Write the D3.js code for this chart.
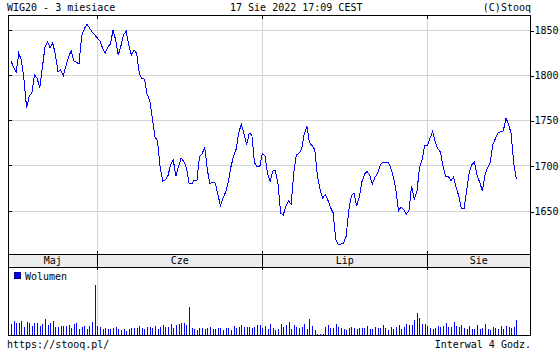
<!DOCTYPE html>
<html>
<head>
<meta charset="utf-8">
<script src="https://cdn.jsdelivr.net/npm/d3@7"></script>
<style>
  body { margin: 0; background: #fff; }
  svg { display: block; }
  text { font-family: 'DejaVu Sans Mono', monospace; font-size: 10px; fill: #000; }
</style>
</head>
<body>
<div id="chart"></div>
<script>
// WIG20, 4h bars, 17 May - 17 Aug 2022
const prices = [
  1815.6, 1809.0, 1803.5, 1824.2, 1816.8, 1794.6, 1763.6, 1776.9, 1780.2, 1800.1,
  1796.8, 1785.7, 1807.9, 1831.2, 1836.7, 1830.1, 1835.6, 1822.3, 1803.5, 1805.7,
  1799.0, 1810.1, 1820.1, 1826.7, 1815.6, 1814.5, 1812.3, 1843.3, 1851.1, 1856.6,
  1852.2, 1847.8, 1844.5, 1841.1, 1837.8, 1830.1, 1824.5, 1831.2, 1834.5, 1850.0,
  1838.9, 1822.3, 1832.3, 1844.5, 1848.9, 1833.4, 1822.3, 1827.8, 1824.5, 1802.4,
  1796.0, 1795.7, 1779.1, 1771.9, 1752.5, 1731.4, 1727.0, 1697.1, 1682.7, 1683.8,
  1688.8, 1701.0, 1706.0, 1688.2, 1698.8, 1708.2, 1704.3, 1697.6, 1680.5, 1679.4,
  1683.8, 1682.7, 1709.8, 1712.6, 1720.4, 1694.9, 1679.9, 1681.2, 1680.5, 1668.3,
  1655.0, 1663.9, 1670.5, 1681.9, 1698.2, 1710.1, 1718.1, 1736.4, 1745.5, 1735.1,
  1722.6, 1735.9, 1733.7, 1702.9, 1698.2, 1698.2, 1713.4, 1710.6, 1690.7, 1682.7,
  1693.8, 1694.2, 1678.8, 1647.2, 1645.0, 1655.0, 1660.5, 1657.2, 1691.6, 1711.8,
  1713.4, 1718.1, 1734.8, 1743.6, 1725.3, 1721.7, 1717.6, 1689.3, 1673.8, 1663.9,
  1667.6, 1661.6, 1653.5, 1647.6, 1618.4, 1611.8, 1612.9, 1614.0, 1621.7, 1650.6,
  1666.4, 1669.6, 1655.0, 1665.0, 1681.6, 1690.1, 1693.5, 1688.8, 1679.4, 1686.8,
  1691.0, 1700.1, 1703.7, 1703.7, 1703.5, 1697.6, 1687.5, 1672.7, 1649.7, 1653.9,
  1650.6, 1645.7, 1650.6, 1677.5, 1662.7, 1670.5, 1697.1, 1706.0, 1722.2, 1722.0,
  1729.7, 1737.5, 1725.9, 1718.4, 1714.8, 1698.9, 1688.2, 1687.9, 1682.9, 1686.8,
  1675.5, 1666.1, 1652.3, 1651.7, 1672.0, 1692.1, 1700.7, 1703.7, 1688.7, 1681.1,
  1671.9, 1689.3, 1697.6, 1702.9, 1723.3, 1729.6, 1736.4, 1737.3, 1738.1, 1752.2,
  1746.1, 1734.8, 1702.1, 1684.9
]
const volumes = [
  30, 39, 32, 34, 40, 21, 36, 34, 24, 34, 34, 24, 31, 45, 28, 34, 40, 21, 21, 24,
  23, 25, 28, 19, 29, 34, 15, 22, 25, 15, 24, 37, 148, 24, 22, 16, 18, 15, 15, 19,
  22, 16, 12, 15, 10, 16, 18, 18, 18, 24, 18, 15, 22, 22, 19, 24, 16, 22, 28, 20,
  20, 31, 19, 26, 30, 34, 33, 27, 82, 17, 15, 12, 18, 18, 16, 19, 21, 15, 15, 18,
  18, 12, 18, 18, 12, 24, 18, 22, 28, 21, 21, 21, 18, 21, 27, 27, 18, 24, 15, 30,
  18, 12, 15, 30, 22, 27, 36, 15, 27, 22, 19, 21, 30, 16, 45, 24, 12, 0, 0, 0,
  21, 27, 18, 18, 30, 21, 18, 15, 12, 18, 22, 18, 15, 18, 18, 18, 24, 15, 15, 21,
  19, 18, 27, 18, 12, 21, 15, 21, 27, 15, 21, 30, 27, 27, 42, 63, 48, 30, 30, 24,
  18, 15, 18, 24, 21, 24, 33, 21, 21, 36, 24, 21, 27, 18, 15, 24, 15, 15, 27, 15,
  18, 30, 15, 12, 21, 18, 15, 24, 15, 24, 21, 18, 21, 42
]
const months = ['Maj', 'Cze', 'Lip', 'Sie']
const monthStarts = [0, 33, 96, 159]
const priceTicks = [1650, 1700, 1750, 1800, 1850]

const plotLeft = 8, plotRight = 530, plotTop = 15
const bandTop = 254, bandBottom = 267, plotBottom = 335
const gridColor = '#d4d4d4'
const blue = '#0000ff'

const svg = d3.select('#chart').append('svg')
    .attr('width', 560)
    .attr('height', 350)

const x = d3.scaleLinear().domain([0, prices.length - 1]).range([10.9, 516.4])
const y = d3.scaleLinear().domain([1650, 1850]).range([210.5, 30])
const yVol = d3.scaleLinear().domain([0, d3.max(volumes)]).range([334, 284.7])

const px = (v) => Math.round(v) + 0.5

// horizontal grid + ticks
const grid = svg.append('g').attr('shape-rendering', 'crispEdges')
grid.selectAll('.hgrid')
    .data(priceTicks)
    .enter().append('line')
    .attr('x1', plotLeft).attr('x2', plotRight)
    .attr('y1', (d) => px(y(d))).attr('y2', (d) => px(y(d)))
    .attr('stroke', gridColor)
grid.selectAll('.ltick')
    .data(priceTicks)
    .enter().append('line')
    .attr('x1', plotLeft).attr('x2', plotLeft + 4)
    .attr('y1', (d) => px(y(d))).attr('y2', (d) => px(y(d)))
    .attr('stroke', '#000')

// vertical month grid through both panels
const boundaries = monthStarts.slice(1)
grid.selectAll('.vgrid')
    .data(boundaries)
    .enter().append('line')
    .attr('x1', (d) => px(x(d))).attr('x2', (d) => px(x(d)))
    .attr('y1', plotTop).attr('y2', plotBottom)
    .attr('stroke', gridColor)

// month band
svg.append('rect')
    .attr('x', plotLeft).attr('y', bandTop)
    .attr('width', plotRight - plotLeft).attr('height', bandBottom - bandTop)
    .attr('fill', '#ececec')

const ticks = svg.append('g').attr('shape-rendering', 'crispEdges').attr('stroke', '#000')
boundaries.forEach((d) => {
    const xx = px(x(d))
    ticks.append('line').attr('x1', xx).attr('x2', xx).attr('y1', plotTop).attr('y2', plotTop + 4)
    ticks.append('line').attr('x1', xx).attr('x2', xx).attr('y1', bandTop - 3).attr('y2', bandBottom + 3)
})

const edges = [plotLeft].concat(boundaries.map((d) => x(d))).concat([plotRight])
svg.selectAll('.month')
    .data(months)
    .enter().append('text')
    .attr('x', (d, i) => (edges[i] + edges[i + 1]) / 2)
    .attr('y', 264)
    .attr('text-anchor', 'middle')
    .text((d) => d)

// volume bars
svg.append('g')
    .attr('shape-rendering', 'crispEdges')
    .selectAll('rect')
    .data(volumes)
    .enter().append('rect')
    .attr('x', (d, i) => Math.round(x(i)))
    .attr('y', (d) => Math.round(yVol(d)))
    .attr('width', 1)
    .attr('height', (d) => plotBottom - Math.round(yVol(d)))
    .attr('fill', blue)

// price line
const line = d3.line()
    .x((d, i) => x(i))
    .y((d) => y(d))
svg.append('path')
    .datum(prices)
    .attr('d', line)
    .attr('fill', 'none')
    .attr('stroke', blue)
    .attr('stroke-width', 1)
    .attr('shape-rendering', 'crispEdges')

// frame
const frame = svg.append('g').attr('shape-rendering', 'crispEdges').attr('stroke', '#000').attr('fill', 'none')
frame.append('rect')
    .attr('x', plotLeft + 0.5).attr('y', plotTop + 0.5)
    .attr('width', plotRight - plotLeft).attr('height', plotBottom - plotTop)
frame.append('line').attr('x1', plotLeft).attr('x2', plotRight).attr('y1', bandTop + 0.5).attr('y2', bandTop + 0.5)
frame.append('line').attr('x1', plotLeft).attr('x2', plotRight).attr('y1', bandBottom + 0.5).attr('y2', bandBottom + 0.5)

// right axis
const yAxis = svg.append('g')
    .attr('transform', 'translate(' + (plotRight + 0.5) + ',0.5)')
    .attr('shape-rendering', 'crispEdges')
    .call(d3.axisRight(y).tickValues(priceTicks).tickSize(3).tickPadding(1).tickFormat(d3.format('d')))
yAxis.select('.domain').remove()
yAxis.selectAll('line').attr('transform', (d) => 'translate(0,' + (Math.round(y(d)) - y(d)) + ')')
yAxis.selectAll('text')
    .attr('font-family', "'DejaVu Sans Mono', monospace")
    .attr('font-size', 10)
    .attr('fill', '#000')

// legend
svg.append('rect')
    .attr('x', 14.5).attr('y', 272.5)
    .attr('width', 6).attr('height', 6)
    .attr('fill', blue).attr('stroke', '#000080')
    .attr('shape-rendering', 'crispEdges')
svg.append('text').attr('x', 25).attr('y', 280).text('Wolumen')

// header / footer
svg.append('text').attr('x', 7).attr('y', 11).text('WIG20 - 3 miesiace')
svg.append('text').attr('x', 230).attr('y', 11).text('17 Sie 2022 17:09 CEST')
svg.append('text').attr('x', 531).attr('y', 11).attr('text-anchor', 'end').text('(C)Stooq')
svg.append('text').attr('x', 7).attr('y', 348).text('https://stooq.pl/')
svg.append('text').attr('x', 531).attr('y', 348).attr('text-anchor', 'end').text('Interwal 4 Godz.')
</script>
</body>
</html>
